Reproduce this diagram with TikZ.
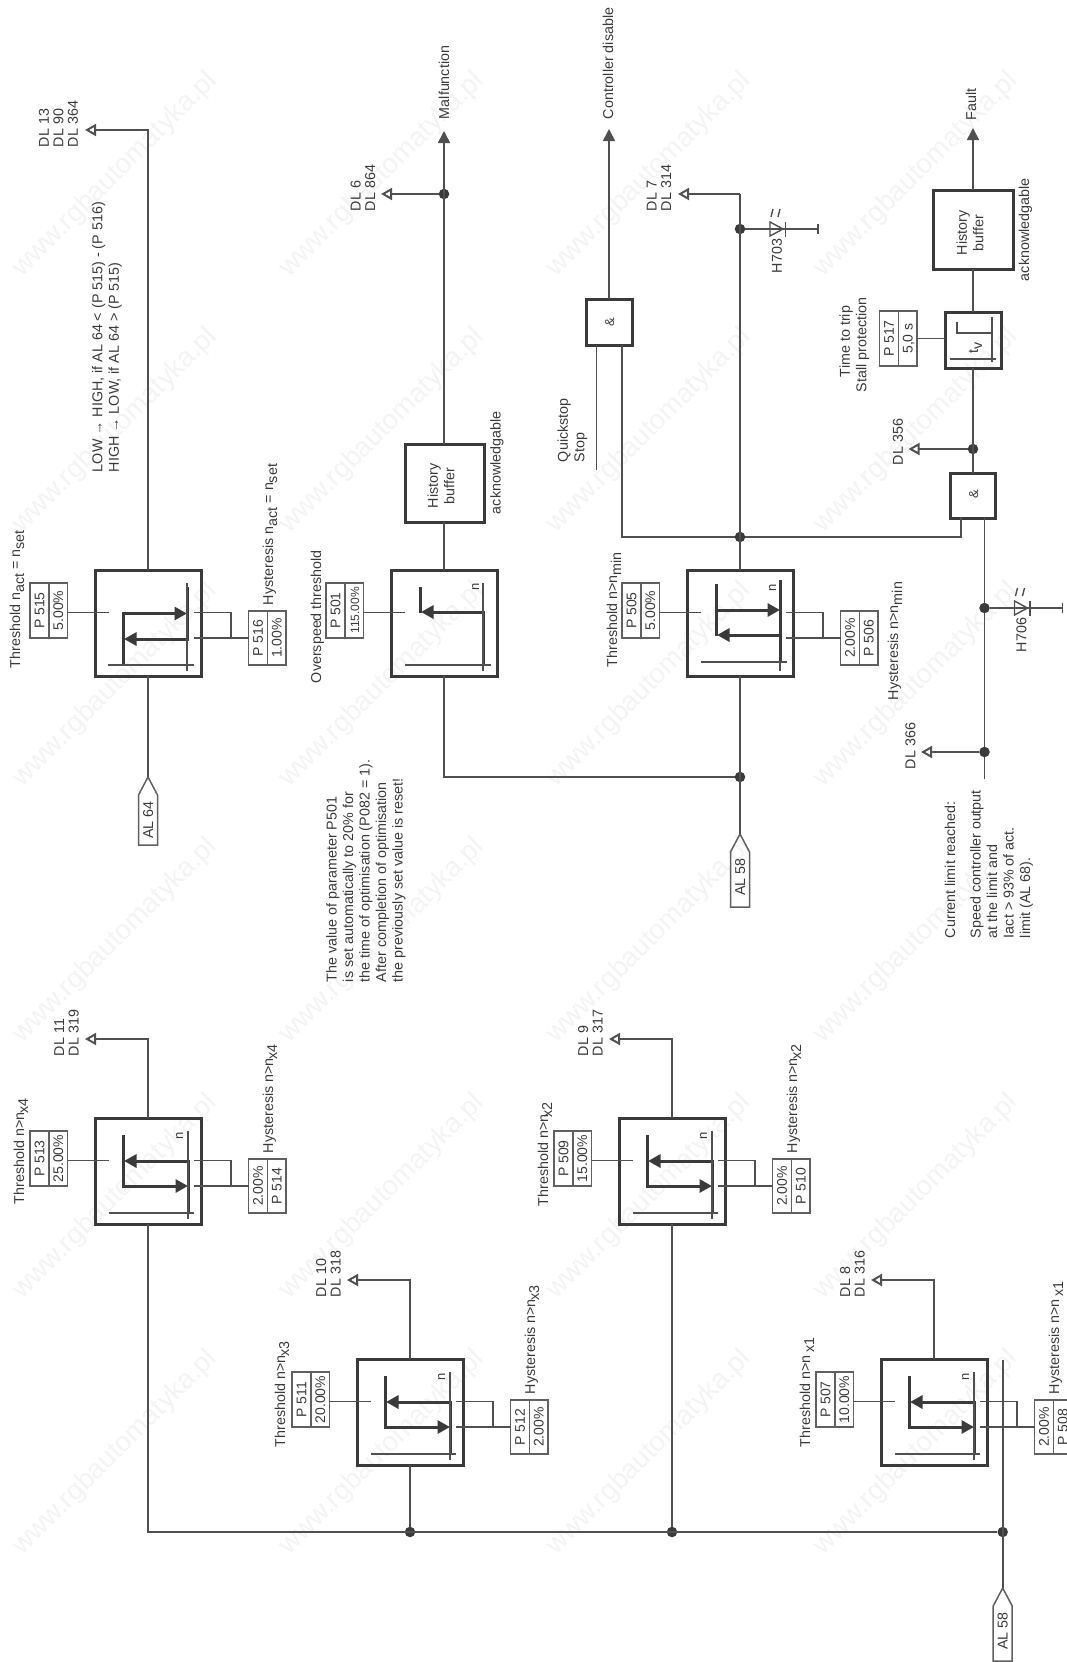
\documentclass[tikz,border=0pt]{standalone}
\usepackage{fontspec}
\setmainfont{Liberation Sans}
\usetikzlibrary{arrows.meta}
\definecolor{ink}{HTML}{3A3A3A}
\definecolor{wirecol}{HTML}{505050}
\definecolor{cellcol}{HTML}{606060}
\definecolor{markcol}{HTML}{F3F3F3}
\newcommand\lsub[1]{\smash{\raisebox{-4pt}{#1}}}
\newcommand\lsubk[1]{\kern-1.5pt\smash{\raisebox{-4pt}{#1}}}
\tikzset{
  x=1pt,y=-1pt,
  every node/.style={inner sep=0pt,outer sep=0pt,text=ink,font=\fontsize{14.3}{16.5}\selectfont},
  wire/.style={draw=wirecol,line width=1.6pt},
  thinline/.style={draw=wirecol,line width=1.4pt},
  heavy/.style={draw=ink,line width=3pt},
  solidtip/.style={-{Triangle[length=12pt,width=12pt]}},
  opentip/.style={-{Triangle[open,length=11pt,width=12pt,line width=2pt]}},
  heavytip/.style={-{Triangle[length=12.5pt,width=13pt]}},
  blockbox/.style={draw=ink,line width=3pt,minimum width=106pt,minimum height=106pt,anchor=north west},
  gatebox/.style={draw=ink,line width=3pt,anchor=north west},
  pbox/.style={draw=cellcol,line width=1.5pt,anchor=north west},
  dotnode/.style={circle,fill=ink,minimum size=10.5pt},
  rtext/.style={rotate=90,anchor=west,align=left},
  rmid/.style={rotate=90,anchor=center,text height=10pt,text depth=0pt},
  dllabel/.style={rotate=90,anchor=west,align=left,font=\fontsize{14.3}{14.5}\selectfont},
  watermark/.style={rotate=45,anchor=east,text=markcol,font=\fontsize{27.5}{30}\selectfont},
}
% two-cell parameter box
\newcommand\pcell[8][\fontsize{14}{16}\selectfont]{%
  \node[pbox,minimum width=#5pt,minimum height=#6pt] (#2) at (#3,#4) {};
  \draw[pbox] (#2.north) -- (#2.south);
  \node[rmid,font=#1] (#2a) at ([xshift=-#5pt/4]#2.center) {#7};
  \node[rmid,font=#1] (#2b) at ([xshift=#5pt/4]#2.center) {#8};
}
% block frame with threshold cell; relative coordinates in the scope
\newcommand\thrbase[6][\fontsize{14}{16}\selectfont]{%
  \node[blockbox] (#2) at (0,0) {};
  \pcell[#1]{#2p}{-65}{13}{37.5}{55}{#5}{#6}
  \coordinate (#2in) at (13.5,42.5);
  \draw[wire] (#2p.east |- #2in) -- (#2in);
}
\newcommand\thrhyst[3]{%
  \pcell{#1h}{153.6}{41}{37.5}{54}{#2}{#3}
  \coordinate (#1ha) at (99,42.5);
  \coordinate (#1hb) at (99,68);
  \coordinate (#1hc) at (136,42.5);
  \coordinate (#1hd) at (136,68);
  \coordinate (#1he) at (145,68);
  \draw[wire] (#1ha) -- (#1hc) -- (#1hd);
  \draw[wire] (#1hb) -- (#1hb -| #1h.west);
  \draw[wire,line width=2.4pt] (#1hd) -- (#1he);
}
\newcommand\throut[3]{%
  \coordinate (#1tip) at (-10,-79);
  \draw[wire,opentip] (#1.north) |- (#1tip);
  \node[dllabel] (#1dl) at (-28.5,-62) {#2\\#3};
}
\newcommand\glyphA{%
  \draw[heavy,heavytip] (28,17) -- (28,68) -- (93,68);
  \draw[heavy,heavytip] (93,95) -- (93,43) -- (29,43);
  \draw[thinline] (93,13) -- (93,101);
  \draw[thinline] (13.5,95) -- (99,95);
}
\newcommand\nmark[3]{\node[rmid,font=\fontsize{13}{14}\selectfont] (#1n) at (#2,#3) {n};}
\newcommand\alpent[5]{% name, centre x, tip y, bottom y, text
  \coordinate (#1) at (#2,#3);
  \draw[pbox] (#1) -- ++(9.5,18) -- (#2+9.5,#4) -- (#2-9.5,#4) -- (#2-9.5,#3+18) -- cycle;
  \node[rmid] (#1t) at (#2,#3+43) {#5};
}
\newcommand\ledmark[5]{% name, junction node, x, y, text
  \coordinate (#1end) at (#3+78,#4);
  \draw[wire] (#2) -- (#1end);
  \draw[thinline] (#3+78,#4-5) -- (#3+78,#4+5);
  \draw[thinline,line join=miter] (#3+30,#4-7) -- (#3+30,#4+7) -- (#3+43,#4) -- cycle;
  \draw[thinline] (#3+45.5,#4-7.5) -- (#3+45.5,#4+7.5);
  \draw[thinline] (#3+31,#4-12) -- (#3+33,#4-20);
  \draw[thinline] (#3+38,#4-12) -- (#3+40,#4-20);
  \node[rtext] (#1t) at (#3+37,#4+44) {#5};
}
\begin{document}
\begin{tikzpicture}
\useasboundingbox (0,0) rectangle (1067,1662);
\clip (0,0) rectangle (1067,1662);

% watermark
\foreach \ex in {213,480,747,1014}
  \foreach \ey in {77,333,587,843,1099,1355}
    \node[watermark] (wm\ex-\ey) at (\ex,\ey) {www.rgbautomatyka.pl};

% --- P 515 block
\begin{scope}[shift={(95,570)}]
  \thrbase{b515}{}{}{P 515}{5.00\%}
  \thrhyst{b515}{P 516}{1.00\%}
  \draw[heavy,heavytip] (28,95) -- (28,43.5) -- (92,43.5);
  \draw[heavy,heavytip] (92,17) -- (92,69) -- (29,69);
  \draw[thinline] (92,13) -- (92,101);
  \draw[thinline] (13,95) -- (99,95);
\end{scope}
\coordinate (t515) at (85,130);
\draw[wire,opentip] (b515.north) |- (t515);
\node[dllabel] (l515dl) at (58.5,147) {DL 13\\DL 90\\DL 364};
\node[rtext] (l515n) at (107,472) {LOW → HIGH, if AL 64 < (P 515) - (P 516)\\HIGH → LOW, if AL 64 > (P 515)};
\node[rtext,text height=10pt,text depth=0pt] (l515t) at (15,668) {Threshold n\lsub{act} = n\lsub{set}};
\node[rtext,text height=10pt,text depth=0pt] (l515h) at (268,605) {Hysteresis n\lsub{act} = n\lsub{set}};
\alpent{a64}{148}{777}{845}{AL 64}
\draw[wire] (a64) -- (b515.south);

% --- P 501 block
\begin{scope}[shift={(391,570)}]
  \thrbase[\fontsize{12}{14}\selectfont]{b501}{}{}{\fontsize{14}{16}\selectfont P 501}{115.00\%}
  \draw[heavy] (29,17) -- (29,43);
  \draw[heavy,heavytip] (92,95) -- (92,42) -- (30,42);
  \draw[thinline] (92,13) -- (92,101);
  \draw[thinline] (14,95) -- (100,95);
  \nmark{b501}{83}{17}
\end{scope}
\node[rtext,text height=10pt,text depth=0pt] (l501t) at (316,683) {Overspeed threshold};
\node[gatebox,minimum width=79pt,minimum height=78pt] (hist1) at (405,444) {};
\node[rmid,text height=,align=center] (hist1t) at (441,486) {History\\buffer};
\node[rtext] (ack1) at (497,514) {acknowledgable};
\node[dotnode] (j194) at (444,194) {};
\coordinate (tmal) at (444,131);
\coordinate (t864) at (381,194);
\draw[wire] (b501.north) -- (b501.north |- hist1.south);
\draw[wire,solidtip] (b501.north |- hist1.north) -- (tmal);
\draw[wire,opentip] (j194) -- (t864);
\node[rtext] (lmal) at (444,119) {Malfunction};
\node[dllabel] (l864) at (363,211) {DL 6\\DL 864};
\node[rtext] (note) at (366,982) {The value of parameter P501\\is set automatically to 20\% for\\the time of optimisation (P082 = 1).\\After completion of optimisation\\the previously set value is reset!};

% --- P 505 block
\begin{scope}[shift={(687,570)}]
  \thrbase{b505}{}{}{P 505}{5.00\%}
  \thrhyst{b505}{2.00\%}{P 506}
  \draw[heavy,heavytip] (29,14) -- (29,40) -- (93,40);
  \draw[heavy,heavytip] (93,65) -- (30,65);
  \draw[heavy] (29,14) -- (29,66);
  \draw[heavy] (93,10) -- (93,92);
  \draw[thinline] (93,92) -- (93,101);
  \draw[thinline] (14,92) -- (100,92);
  \nmark{b505}{84}{18}
\end{scope}
\node[rtext,text height=10pt,text depth=0pt] (l505t) at (612,667) {Threshold n>n\lsub{min}};
\node[rtext,text height=10pt,text depth=0pt] (l505h) at (893,700) {Hysteresis n>n\lsub{min}};
\node[dotnode] (j777) at (740,777) {};
\node[dotnode] (j537) at (740,537) {};
\node[dotnode] (j229) at (740,229) {};
\coordinate (t314) at (678,194);
\coordinate (c194) at (740,194);
\alpent{a58}{740}{834}{907}{AL 58}
\draw[wire] (a58) -- (b505.south);
\draw[wire] (j777) -| (b501.south);
\draw[wire] (b505.north) -- (c194);
\draw[wire,opentip] (c194) -- (t314);
\node[dllabel] (l314) at (659,211) {DL 7\\DL 314};
\ledmark{h703}{j229}{740}{229}{H703}

% gate 1 (Quickstop)
\node[gatebox,minimum size=46pt] (and1) at (586,299) {};
\node[rmid,font=\fontsize{13}{14}\selectfont] (and1t) at (609,322) {\&};
\coordinate (and1a) at (596.5,345);
\coordinate (and1b) at (622,345);
\coordinate (qsend) at (596.5,470);
\coordinate (tctl) at (609,129);
\draw[wire] (qsend) -- (and1a);
\draw[wire] (and1b) |- (j537);
\draw[wire,solidtip] (and1.north) -- (tctl);
\node[rtext] (lctl) at (608,119) {Controller disable};
\node[rtext] (lqs) at (572.5,462) {Quickstop\\Stop};

% gate 2, stall chain
\node[gatebox,minimum size=45pt] (and2) at (950.5,473) {};
\node[rmid,font=\fontsize{13}{14}\selectfont] (and2t) at (973,494) {\&};
\coordinate (and2a) at (960.7,517);
\coordinate (and2b) at (984.5,517);
\coordinate (cinend) at (984.5,779);
\draw[wire] (j537) -| (and2a);
\draw[wire] (cinend) -- (and2b);
\node[dotnode] (j608) at (984.5,608) {};
\node[dotnode] (j752) at (984.5,752) {};
\coordinate (t366) at (921,752);
\draw[wire,opentip] (j752) -- (t366);
\node[rtext] (l366) at (910.5,769) {DL 366};
\ledmark{h706}{j608}{984.5}{608}{H706}
\node[rtext] (lcur) at (989,938) {Current limit reached:\\[9pt]Speed controller output\\at the limit and\\Iact > 93\% of act.\\limit (AL 68).};

\node[dotnode] (j449) at (973,449) {};
\coordinate (t356) at (908.5,449);
\node[gatebox,minimum width=56pt,minimum height=56pt] (tv) at (945,312) {};
\begin{scope}[shift={(945,312)}]
  \pcell{p517}{-65.5}{-1}{37.5}{55}{P 517}{5,0 s}
  \draw[thinline] (12,10) -- (12,21) -- (47,21);
  \draw[thinline,line width=2pt] (47,5) -- (47,50);
  \draw[thinline] (5,47) -- (51,47);
  \node[rmid] (tvt) at (28,36) {t\lsub{v}};
\end{scope}
\draw[wire] (p517.east) -- (p517.east -| tv.west);
\node[gatebox,minimum width=80pt,minimum height=79pt] (hist2) at (933,190) {};
\node[rmid,text height=,align=center] (hist2t) at (970,233) {History\\buffer};
\node[rtext] (ack2) at (1025.5,281) {acknowledgable};
\coordinate (tfault) at (973,128);
\draw[wire] (and2.north) -- (tv.south);
\draw[wire] (tv.north) -- (hist2.south);
\draw[wire,solidtip] (hist2.north) -- (tfault);
\draw[wire,opentip] (j449) -- (t356);
\node[rtext] (lfault) at (971,120) {Fault};
\node[rtext] (l356) at (898,465) {DL 356};
\node[rtext] (l517) at (854.5,392) {\hspace*{15pt}Time to trip\\Stall protection};

% --- n_x blocks
\begin{scope}[shift={(95,1118)}]
  \thrbase{b513}{}{}{P 513}{25.00\%}
  \thrhyst{b513}{2.00\%}{P 514}
  \glyphA
  \nmark{b513}{83}{18}
  \throut{b513}{DL 11}{DL 319}
  \node[rtext,text height=10pt,text depth=0pt] (b513lt) at (-76,86) {Threshold n>n\lsubk{x4}};
  \node[rtext,text height=10pt,text depth=0pt] (b513lh) at (173,35) {Hysteresis n>n\lsubk{x4}};
\end{scope}
\begin{scope}[shift={(357,1359)}]
  \thrbase{b511}{}{}{P 511}{20.00\%}
  \thrhyst{b511}{P 512}{2.00\%}
  \glyphA
  \nmark{b511}{83}{18}
  \throut{b511}{DL 10}{DL 318}
  \node[rtext,text height=10pt,text depth=0pt] (b511lt) at (-77,88) {Threshold n>n\lsubk{x3}};
  \node[rtext,text height=10pt,text depth=0pt] (b511lh) at (173,35) {Hysteresis n>n\lsubk{x3}};
\end{scope}
\begin{scope}[shift={(619,1118)}]
  \thrbase{b509}{}{}{P 509}{15.00\%}
  \thrhyst{b509}{2.00\%}{P 510}
  \glyphA
  \nmark{b509}{83}{18}
  \throut{b509}{DL 9}{DL 317}
  \node[rtext,text height=10pt,text depth=0pt] (b509lt) at (-76,88) {Threshold n>n\kern-3pt\lsub{x2}};
  \node[rtext,text height=10pt,text depth=0pt] (b509lh) at (173,35) {Hysteresis n>n\lsubk{x2}};
\end{scope}
\begin{scope}[shift={(881,1359)}]
  \thrbase{b507}{}{}{P 507}{10.00\%}
  \thrhyst{b507}{2.00\%}{P 508}
  \glyphA
  \nmark{b507}{83}{18}
  \throut{b507}{DL 8}{DL 316}
  \node[rtext,text height=10pt,text depth=0pt] (b507lt) at (-76,88) {Threshold n>n\lsub{\,x1}};
  \node[rtext,text height=10pt,text depth=0pt] (b507lh) at (173,35) {Hysteresis n>n\lsub{\,x1}};
\end{scope}
\node[dotnode] (j410) at (410,1532) {};
\node[dotnode] (j672) at (672,1532) {};
\node[dotnode] (j1003) at (1002.7,1532) {};
\coordinate (busc) at (148,1532);
\coordinate (busup) at (1002.7,1359.5);
\draw[wire] (b513.south) -- (busc) -- (j1003);
\draw[wire] (b511.south) -- (j410);
\draw[wire] (b509.south) -- (j672);
\alpent{a58b}{1002.7}{1588}{1661}{AL 58}
\draw[wire] (a58b) -- (busup);
\end{tikzpicture}
\end{document}
